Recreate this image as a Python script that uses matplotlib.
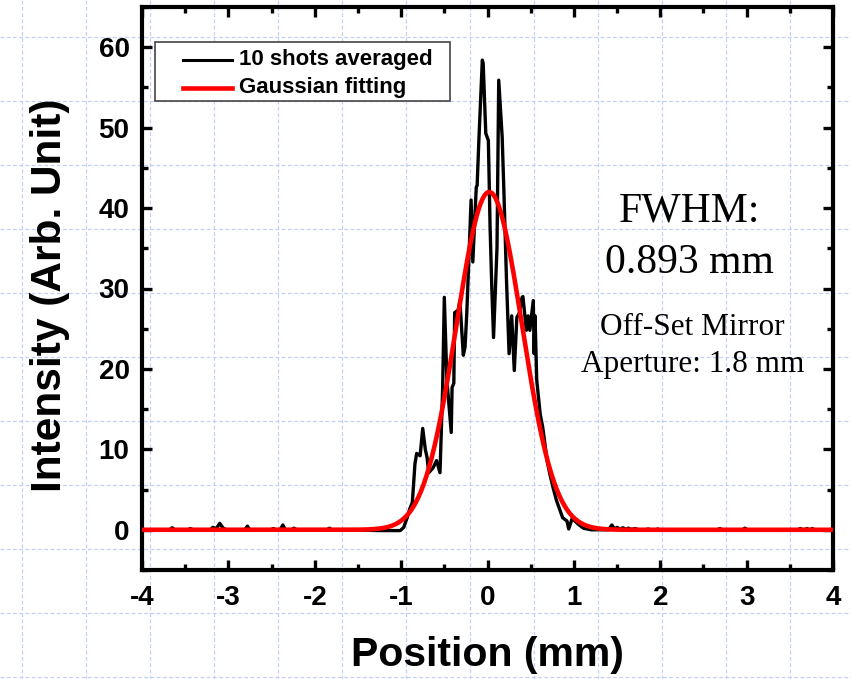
import numpy as np
import matplotlib
matplotlib.use('Agg')
import matplotlib.pyplot as plt
from matplotlib.lines import Line2D
from matplotlib.patches import Rectangle
from matplotlib.ticker import MultipleLocator

# Averaged beam profile, 10 shots (position in mm, intensity in arb. unit)
pos_mm = [
    -4.00, -3.68, -3.65, -3.62, -3.47, -3.44, -3.41, -3.21, -3.18, -3.14,
    -3.10, -3.06, -3.02, -2.81, -2.78, -2.75, -2.51, -2.48, -2.45, -2.40,
    -2.37, -2.34, -2.27, -2.24, -2.21, -1.86, -1.83, -1.80, -1.20, -1.01,
    -0.97, -0.93, -0.90, -0.87, -0.84, -0.82, -0.78, -0.75, -0.72, -0.70,
    -0.68, -0.63, -0.59, -0.55, -0.52, -0.50, -0.47, -0.42, -0.41, -0.39,
    -0.38, -0.34, -0.32, -0.28, -0.26, -0.24, -0.19, -0.17, -0.13, -0.12,
    -0.10, -0.06, -0.05, -0.02, 0.01, 0.03, 0.05, 0.07, 0.11, 0.13,
    0.17, 0.19, 0.22, 0.25, 0.28, 0.31, 0.34, 0.37, 0.40, 0.41,
    0.45, 0.47, 0.49, 0.53, 0.54, 0.55, 0.57, 0.61, 0.64, 0.69,
    0.72, 0.76, 0.80, 0.84, 0.87, 0.92, 0.94, 0.98, 1.01, 1.05,
    1.11, 1.20, 1.40, 1.44, 1.47, 1.50, 1.53, 1.57, 1.60, 1.63,
    1.67, 1.71, 1.75, 1.83, 1.86, 1.89, 1.95, 1.97, 2.00, 2.66,
    2.69, 2.72, 2.95, 2.98, 3.01, 3.59, 3.62, 3.66, 3.70, 3.73,
    3.76, 3.79, 4.00,
]
intensity = [
    0.0, 0.0, 0.25, 0.0, 0.0, 0.15, 0.0, 0.0, 0.3, 0.15,
    0.8, 0.2, 0.0, 0.0, 0.45, 0.0, 0.0, 0.15, 0.0, 0.0,
    0.6, 0.0, 0.0, 0.2, 0.0, 0.0, 0.2, 0.0, -0.1, -0.1,
    0.3, 1.5, 2.6, 3.4, 8.2, 9.5, 9.2, 12.6, 10.0, 9.0,
    7.1, 7.7, 8.6, 7.1, 17.3, 28.9, 18.6, 12.1, 17.7, 18.2,
    27.0, 27.3, 28.5, 21.7, 22.7, 26.9, 41.0, 33.3, 42.6, 42.8,
    48.4, 58.4, 58.0, 49.3, 48.4, 37.6, 30.0, 23.9, 35.1, 55.9,
    48.8, 42.0, 31.0, 21.9, 26.6, 19.8, 26.4, 27.0, 28.9, 29.0,
    24.8, 26.6, 24.8, 28.5, 21.9, 26.6, 18.6, 14.4, 12.7, 8.6,
    7.0, 5.2, 3.6, 2.4, 1.5, 1.1, 0.1, 1.4, 1.1, 0.7,
    0.2, 0.0, 0.0, 0.6, 0.1, 0.3, 0.1, 0.25, 0.05, 0.2,
    0.05, 0.15, 0.0, 0.0, 0.1, 0.0, 0.0, 0.1, 0.0, 0.0,
    0.15, 0.0, 0.0, 0.2, 0.0, 0.0, 0.15, 0.0, 0.15, 0.0,
    0.15, 0.0, 0.0,
]

# Gaussian fit parameters
fit_amp = 42.0
fit_center = 0.02
fit_fwhm = 0.893

x_ticks = [-4, -3, -2, -1, 0, 1, 2, 3, 4]
y_ticks = [0, 10, 20, 30, 40, 50, 60]

W, H = 851, 679
plt.rcParams['font.family'] = 'Liberation Sans'
plt.rcParams['font.weight'] = 'bold'

fig = plt.figure(figsize=(W / 100, H / 100), dpi=100)
fig.patch.set_facecolor('white')

# faint dashed background grid over the whole sheet
grid_kw = dict(color='#c2d0f4', lw=0.9, ls=(0, (3, 2)), zorder=-5)
for xp in range(22, W, 64):
    fig.add_artist(Line2D([xp / W, xp / W], [0, 1], transform=fig.transFigure, **grid_kw))
for yp in range(37, H, 64):
    fig.add_artist(Line2D([0, 1], [1 - yp / H, 1 - yp / H], transform=fig.transFigure, **grid_kw))

ax_l, ax_r, ax_t, ax_b = 142, 833, 7, 570
ax = fig.add_axes([ax_l / W, 1 - ax_b / H, (ax_r - ax_l) / W, (ax_b - ax_t) / H])
ax.set_facecolor('none')

xfit = np.linspace(-4, 4, 801)
yfit = fit_amp * np.exp(-4 * np.log(2) * (xfit - fit_center) ** 2 / fit_fwhm ** 2)

ax.plot(pos_mm, intensity, color='black', lw=2.4, zorder=3)
ax.plot(xfit, yfit, color='#ff0000', lw=3.3, zorder=4)

ax.set_xlim(-4, 4)
ax.set_ylim(-5, 65)
ax.set_xticks(x_ticks)
ax.set_yticks(y_ticks)
ax.set_xticklabels([str(v) for v in x_ticks])
ax.set_yticklabels([str(v) for v in y_ticks])
ax.xaxis.set_minor_locator(MultipleLocator(0.5))
ax.yaxis.set_minor_locator(MultipleLocator(5))
ax.tick_params(which='both', direction='in', top=True, right=True, width=2.4)
ax.tick_params(which='major', length=7, labelsize=20)
ax.tick_params(which='minor', length=4)
ax.tick_params(axis='x', pad=11)
ax.tick_params(axis='y', pad=9)
for sp in ax.spines.values():
    sp.set_linewidth(3)

ax.set_xlabel('Position (mm)', fontsize=29.5, fontweight='bold')
ax.set_ylabel('Intensity (Arb. Unit)', fontsize=30.5, fontweight='bold')
ax.xaxis.label.set_va('center')
ax.yaxis.label.set_va('center')
ax.xaxis.set_label_coords(0.5, (ax_b - 655) / (ax_b - ax_t))
ax.yaxis.set_label_coords((50 - ax_l) / (ax_r - ax_l), (ax_b - 295) / (ax_b - ax_t))


def to_ax(px, py):
    return (px - ax_l) / (ax_r - ax_l), (ax_b - py) / (ax_b - ax_t)


# legend box
x0, y0 = to_ax(155, 101)
x1, y1 = to_ax(450, 42)
ax.add_patch(Rectangle((x0, y0), x1 - x0, y1 - y0, transform=ax.transAxes,
                       facecolor='white', edgecolor='#444444', lw=1.2, zorder=6))
for py, col, lw, label in [(60, 'black', 2.2, '10 shots averaged'),
                           (88, '#ff0000', 3.3, 'Gaussian fitting')]:
    lx0, ly = to_ax(183, py)
    lx1, _ = to_ax(232, py)
    ax.add_artist(Line2D([lx0, lx1], [ly, ly], transform=ax.transAxes,
                         color=col, lw=lw, zorder=7))
    tx, _ = to_ax(239, py)
    ax.text(tx, ly, label, transform=ax.transAxes, fontsize=16,
            fontweight='bold', ha='left', va='center', zorder=7)

serif = dict(family='Liberation Serif', fontweight='normal', ha='center', va='center')
ax.text(2.34, 39.6, 'FWHM:', fontsize=30, **serif)
ax.text(2.34, 33.2, '0.893 mm', fontsize=30, **serif)
ax.text(2.37, 25.2, 'Off-Set Mirror', fontsize=22.5, **serif)
ax.text(2.37, 20.6, 'Aperture: 1.8 mm', fontsize=22.5, **serif)

fig.savefig('out.png', dpi=100)
